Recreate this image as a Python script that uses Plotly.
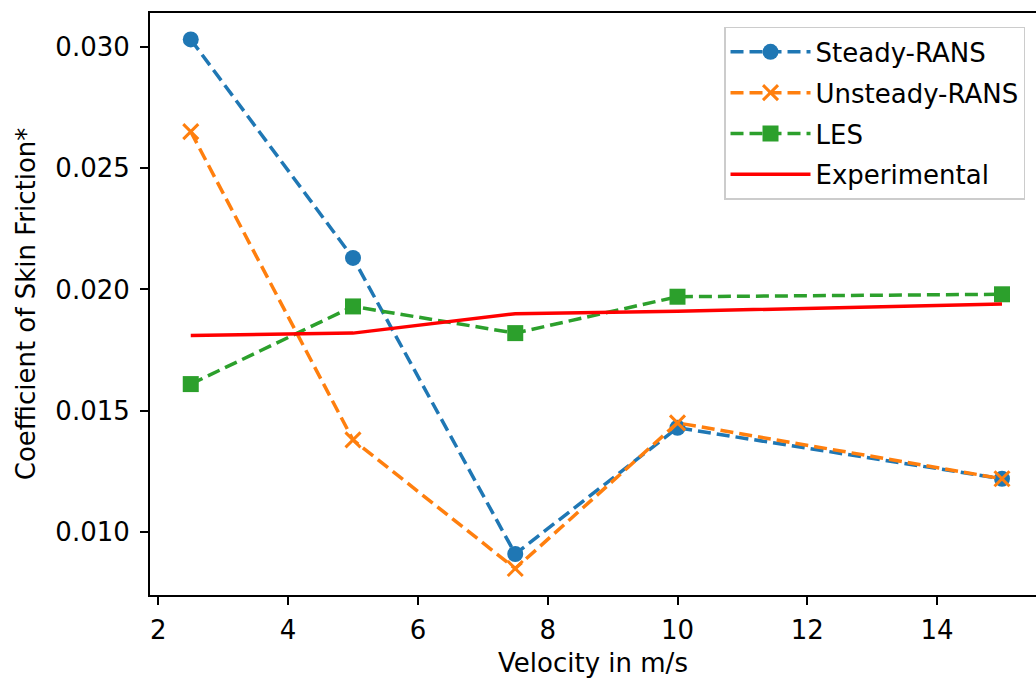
import plotly.graph_objects as go

velocity = [2.5, 5, 7.5, 10, 15]
steady_rans = [0.0303, 0.0213, 0.0091, 0.0143, 0.0122]
unsteady_rans = [0.0265, 0.0138, 0.0085, 0.0145, 0.0122]
les = [0.0161, 0.0193, 0.0182, 0.0197, 0.0198]
experimental = [0.0181, 0.0182, 0.0190, 0.0191, 0.0194]

x_ticks = [2, 4, 6, 8, 10, 12, 14]
y_ticks = [0.010, 0.015, 0.020, 0.025, 0.030]
y_tick_labels = ["0.010", "0.015", "0.020", "0.025", "0.030"]

FONT = "DejaVu Sans"
FS = 26
DASH = "13px,6px"

fig = go.Figure()
fig.add_trace(go.Scatter(
    x=velocity, y=steady_rans, name="Steady-RANS", mode="lines+markers", legendgroup="a",
    line=dict(color="#1f77b4", width=3.5, dash=DASH),
    marker=dict(symbol="circle", size=16, color="#1f77b4")))
fig.add_trace(go.Scatter(
    x=velocity, y=unsteady_rans, name="Unsteady-RANS", mode="lines+markers", legendgroup="b",
    line=dict(color="#ff7f0e", width=3.5, dash=DASH),
    marker=dict(symbol="x-thin-open", size=15, color="#ff7f0e",
                line=dict(color="#ff7f0e", width=3))))
fig.add_trace(go.Scatter(
    x=velocity, y=les, name="LES", mode="lines+markers", legendgroup="c",
    line=dict(color="#2ca02c", width=3.5, dash=DASH),
    marker=dict(symbol="square", size=16, color="#2ca02c")))
fig.add_trace(go.Scatter(
    x=velocity, y=experimental, name="Experimental", mode="lines", legendgroup="d",
    line=dict(color="#ff0000", width=3.5)))

fig.update_layout(
    width=1036, height=681,
    margin=dict(l=150, r=0, t=13, b=86),
    paper_bgcolor="white", plot_bgcolor="white",
    font=dict(family=FONT, size=FS, color="#000000"),
    showlegend=True,
    legend=dict(
        x=0.9876, y=0.976, xanchor="right", yanchor="top",
        bgcolor="rgba(255,255,255,0.8)", bordercolor="#cccccc", borderwidth=1.5,
        font=dict(family=FONT, size=FS, color="#000000"),
        tracegroupgap=4, itemwidth=80),
    xaxis=dict(
        range=[1.872, 15.524], tickvals=x_ticks, ticktext=[str(t) for t in x_ticks],
        showgrid=False, zeroline=False,
        showline=True, linecolor="#000000", linewidth=2, mirror=True,
        ticks="outside", ticklen=8, tickwidth=1.5, tickcolor="#000000",
        tickfont=dict(family=FONT, size=FS), ticklabelstandoff=3,
        title=dict(text="Velocity in m/s", font=dict(family=FONT, size=FS), standoff=10)),
    yaxis=dict(
        range=[0.00741, 0.03139], tickvals=y_ticks, ticktext=y_tick_labels,
        showgrid=False, zeroline=False,
        showline=True, linecolor="#000000", linewidth=2,
        ticks="outside", ticklen=8, tickwidth=1.5, tickcolor="#000000",
        tickfont=dict(family=FONT, size=FS), ticklabelstandoff=5,
        title=dict(text="Coefficient of Skin Friction*", font=dict(family=FONT, size=FS), standoff=12)),
)

fig.write_html("out.html")
